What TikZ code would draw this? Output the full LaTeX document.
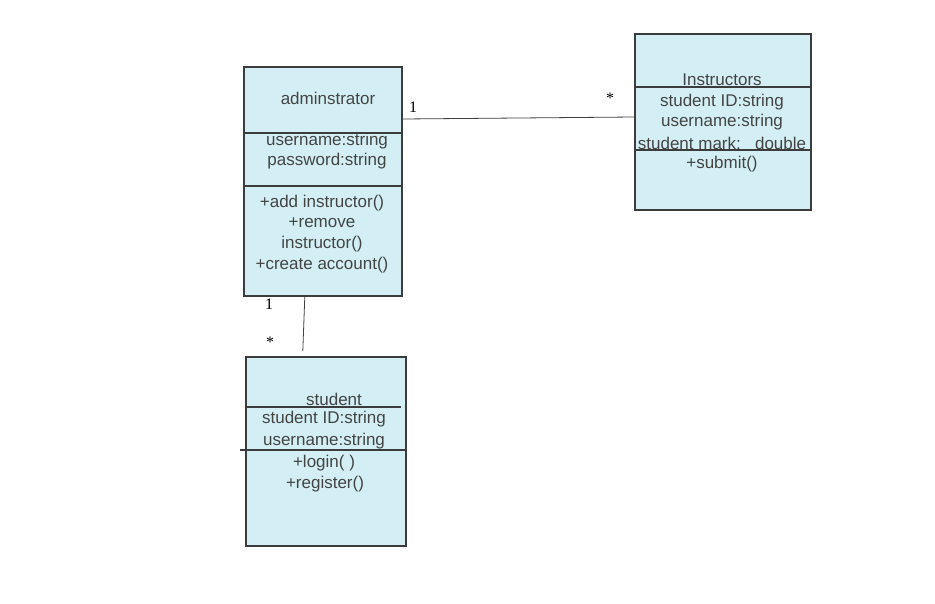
\documentclass[tikz,border=0pt]{standalone}
\usepackage{fontspec}
\setmainfont{Liberation Sans}
\newfontfamily\multfont{Liberation Serif}
\definecolor{boxcyan}{HTML}{D3EFF5}
\definecolor{linegray}{HTML}{3C3C3C}
\definecolor{textgray}{HTML}{444444}
\begin{document}
\begin{tikzpicture}[x=1pt, y=-1pt,
    cls/.style={draw=linegray, line width=1.6pt, fill=boxcyan, anchor=north west, inner sep=0pt},
    divider/.style={draw=linegray, line width=1.6pt},
    txt/.style={text=textgray, font=\fontsize{17}{20}\selectfont, inner sep=0pt},
    mult/.style={font=\multfont\fontsize{16}{18}\selectfont, inner sep=0pt},
    assoc/.style={draw=black!75, line width=0.8pt}
]
    \useasboundingbox (0,0) rectangle (935,603);

    % Class boxes
    \node[cls, minimum width=158pt, minimum height=229pt] (admin) at (243,66) {};
    \node[cls, minimum width=176pt, minimum height=176pt] (instr) at (634,33) {};
    \node[cls, minimum width=160pt, minimum height=189pt] (stud) at (245,356) {};

    % adminstrator
    \node[txt] (adminname) at (328,98) {adminstrator};
    \node[txt] (adminuser) at (327,141) {username:string};
    \node[txt] (adminpass) at (327,161) {password:string};
    \node[txt] (adminadd) at (322,203) {+add instructor()};
    \node[txt] (adminrem) at (322,223) {+remove};
    \node[txt] (adminrem2) at (322,244) {instructor()};
    \node[txt] (admincreate) at (322,265) {+create account()};
    \draw[divider] (243,133) -- (401,133);
    \draw[divider] (243,186) -- (401,186);

    % Instructors
    \node[txt] (instrname) at (722,80) {Instructors};
    \node[txt] (instrid) at (722,102) {student ID:string};
    \node[txt] (instruser) at (722,122) {username:string};
    \node[txt] (instrmark) at (722,143) {student mark:\ \ \ double};
    \node[txt] (instrsubmit) at (722,164) {+submit()};
    \draw[divider] (634,87) -- (810,87);
    \draw[divider] (634,150) -- (810,150);

    % student
    \node[txt] (studname) at (334,399) {student};
    \node[txt] (studid) at (324,419) {student ID:string};
    \node[txt] (studuser) at (324,441) {username:string};
    \node[txt] (studlogin) at (324,463) {+login( )};
    \node[txt] (studreg) at (325,484) {+register()};
    \draw[divider] (245,407) -- (401,407);
    \draw[divider] (240,450) -- (405,450);

    % Associations
    \draw[assoc] ([yshift=-53pt]admin.north east) -- ([yshift=-84pt]instr.north west);
    \draw[assoc] ([xshift=-18pt]admin.south) -- ([xshift=-23pt,yshift=5pt]stud.north);

    % Multiplicities
    \node[mult] (m1) at (413,107) {1};
    \node[mult] (m2) at (610,98) {*};
    \node[mult] (m3) at (269,304) {1};
    \node[mult] (m4) at (270,342) {*};
\end{tikzpicture}
\end{document}
